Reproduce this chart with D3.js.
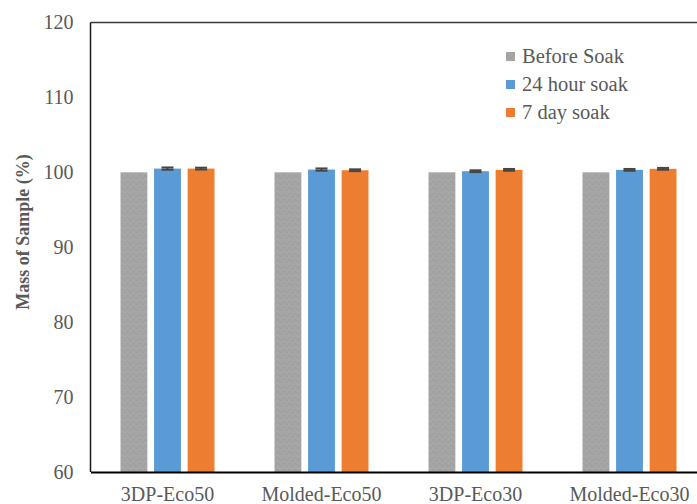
<!DOCTYPE html>
<html>
<head>
<meta charset="utf-8">
<script src="https://cdn.jsdelivr.net/npm/d3@7"></script>
<style>
  html, body { margin: 0; padding: 0; background: #fff; overflow: hidden; }
  svg { display: block; }
</style>
</head>
<body>
<svg id="chart" width="697" height="504"></svg>
<script>
// Sample mass relative to the dry mass, before and after soaking
const categories = ["3DP-Eco50", "Molded-Eco50", "3DP-Eco30", "Molded-Eco30"];
const seriesNames = ["Before Soak", "24 hour soak", "7 day soak"];
const beforeSoak = [100.0, 100.0, 100.0, 100.0];
const soak24h = [100.5, 100.37, 100.15, 100.33];
const soak7d = [100.5, 100.28, 100.33, 100.47];
const errBefore = [0, 0, 0, 0];
const err24h = [0.15, 0.15, 0.12, 0.12];
const err7d = [0.12, 0.12, 0.12, 0.12];
const yTicks = [60, 70, 80, 90, 100, 110, 120];
const colors = ["url(#grayTexture)", "#5b9bd5", "#ed7d31"];

const values = [beforeSoak, soak24h, soak7d];
const errors = [errBefore, err24h, err7d];

const svg = d3.select("#chart");
const plotLeft = 90.5, plotTop = 22.5, plotBottom = 472, bandW = 154;
const plotRight = plotLeft + bandW * categories.length;

// Textured gray fill for the "Before Soak" bars
const defs = svg.append("defs");
const pat = defs.append("pattern")
  .attr("id", "grayTexture").attr("patternUnits", "userSpaceOnUse")
  .attr("width", 6).attr("height", 6);
pat.append("rect").attr("width", 6).attr("height", 6).attr("fill", "#a6a6a6");
pat.append("path").attr("d", "M0,3 L1.5,1 L3,3 L4.5,5 L6,3")
  .attr("fill", "none").attr("stroke", "#999999").attr("stroke-width", 0.8);

const x = d3.scaleBand().domain(categories).range([plotLeft, plotRight]);
const xs = d3.scaleBand().domain(d3.range(seriesNames.length))
  .range([30, 124]).paddingInner(0.2);
const y = d3.scaleLinear().domain([60, 120]).range([plotBottom, plotTop]);

const font = "'Liberation Serif', 'Times New Roman', serif";

// Bars
seriesNames.forEach((name, s) => {
  svg.append("g").selectAll("rect")
    .data(categories)
    .join("rect")
    .attr("x", c => x(c) + xs(s))
    .attr("width", xs.bandwidth())
    .attr("y", (c, i) => y(values[s][i]))
    .attr("height", (c, i) => y(60) - y(values[s][i]))
    .attr("fill", colors[s]);
});

// Error bars
seriesNames.forEach((name, s) => {
  const g = svg.append("g").attr("stroke", "#454545").attr("stroke-width", 2);
  categories.forEach((c, i) => {
    const e = errors[s][i];
    if (!e) return;
    const cx = x(c) + xs(s) + xs.bandwidth() / 2;
    const v = values[s][i];
    g.append("line").attr("x1", cx).attr("x2", cx).attr("y1", y(v - e)).attr("y2", y(v + e));
    [v - e, v + e].forEach(t => g.append("line")
      .attr("x1", cx - 6).attr("x2", cx + 6).attr("y1", y(t)).attr("y2", y(t)));
  });
});

// Plot frame
svg.append("line").attr("x1", plotLeft).attr("x2", 697).attr("y1", plotTop).attr("y2", plotTop)
  .attr("stroke", "#3a3a3a").attr("stroke-width", 1.5);
svg.append("line").attr("x1", plotLeft).attr("x2", plotLeft).attr("y1", plotTop).attr("y2", plotBottom)
  .attr("stroke", "#1a1a1a").attr("stroke-width", 1.5);

// Y axis
const yAxis = d3.axisLeft(y).tickValues(yTicks).tickSize(0).tickPadding(17);
const yg = svg.append("g").attr("transform", `translate(${plotLeft},0)`).call(yAxis);
yg.select(".domain").remove();
yg.selectAll("text").attr("font-family", font).attr("font-size", 20).attr("fill", "#595959");

// X axis
const xAxis = d3.axisBottom(x).tickSize(0).tickPadding(0);
const xg = svg.append("g").attr("transform", `translate(0,${plotBottom})`).call(xAxis);
xg.select(".domain").attr("stroke", "#000").attr("stroke-width", 2.2);
xg.selectAll("text").attr("font-family", font).attr("font-size", 20).attr("fill", "#595959")
  .attr("dy", null).attr("y", 29);

// Y title
svg.append("text")
  .attr("transform", "translate(29,232) rotate(-90)")
  .attr("text-anchor", "middle")
  .attr("font-family", font).attr("font-size", 18).attr("font-weight", "bold")
  .attr("fill", "#595959")
  .text("Mass of Sample (%)");

// Legend
const lg = svg.append("g").attr("transform", "translate(506,0)");
seriesNames.forEach((name, s) => {
  const cy = 57 + s * 28;
  lg.append("rect").attr("x", 0).attr("y", cy - 5).attr("width", 9).attr("height", 9)
    .attr("fill", colors[s]);
  lg.append("text").attr("x", 16).attr("y", cy + 6)
    .attr("font-family", font).attr("font-size", 20.5).attr("fill", "#595959")
    .text(name);
});
</script>
</body>
</html>
